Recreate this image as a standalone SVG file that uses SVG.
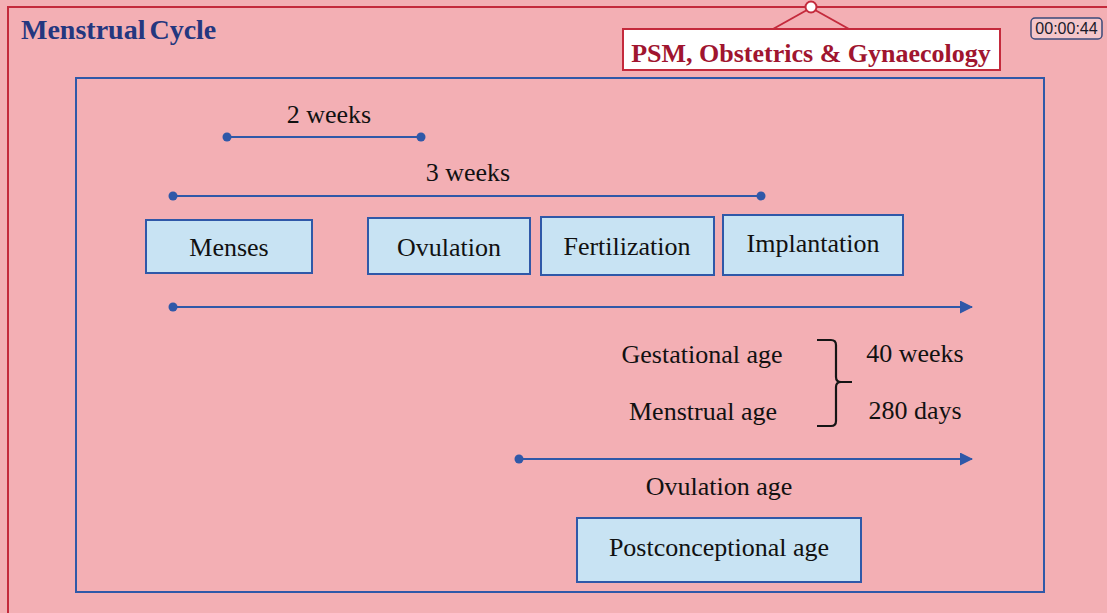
<svg xmlns="http://www.w3.org/2000/svg" width="1107" height="613" viewBox="0 0 1107 613">
<defs>
<style>
.t{font-family:"Liberation Serif","Times New Roman",serif;font-size:26px;fill:#111;text-anchor:middle}
.box{fill:#c8e3f3;stroke:#2f58a8;stroke-width:2}
.ln{stroke:#2f58a8;stroke-width:2.2;fill:none}
.dot{fill:#2f58a8}
</style>
<marker id="ah" markerWidth="13" markerHeight="13" refX="12" refY="6.5" orient="auto" markerUnits="userSpaceOnUse">
<path d="M0,0 L13,6.5 L0,13 Z" fill="#2f58a8"/>
</marker>
</defs>
<rect x="0" y="0" width="1107" height="613" fill="#f3afb4"/>
<path d="M8,613 L8,7 L1107,7" fill="none" stroke="#c42a3c" stroke-width="2"/>
<text x="21" y="39" font-family="Liberation Serif,serif" font-size="28" font-weight="bold" fill="#24377f" word-spacing="-3">Menstrual Cycle</text>
<g id="header">
<line x1="807" y1="10" x2="773" y2="29" stroke="#c42a3c" stroke-width="2"/>
<line x1="815" y1="10" x2="849" y2="29" stroke="#c42a3c" stroke-width="2"/>
<circle cx="811" cy="7" r="5.5" fill="#fff" stroke="#c42a3c" stroke-width="2"/>
<rect x="623" y="29" width="377" height="41" fill="#fff" stroke="#c42a3c" stroke-width="2"/>
<text x="811" y="62" font-family="Liberation Serif,serif" font-size="26" font-weight="bold" fill="#a0152f" text-anchor="middle">PSM, Obstetrics &amp; Gynaecology</text>
</g>
<g id="timer">
<rect x="1031" y="18" width="71" height="21" rx="4" fill="#f5c6ca" stroke="#3a4a7a" stroke-width="1.5"/>
<text x="1066.5" y="34" font-family="Liberation Sans,Arial,sans-serif" font-size="16" fill="#1a1a2a" text-anchor="middle">00:00:44</text>
</g>
<rect id="frame" x="76" y="78" width="968" height="514" fill="none" stroke="#2f58a8" stroke-width="2"/>
<g id="connectors">
<line class="ln" x1="227" y1="137" x2="421" y2="137"/>
<circle class="dot" cx="227" cy="137" r="4.5"/>
<circle class="dot" cx="421" cy="137" r="4.5"/>
<line class="ln" x1="173" y1="196" x2="761" y2="196"/>
<circle class="dot" cx="173" cy="196" r="4.5"/>
<circle class="dot" cx="761" cy="196" r="4.5"/>
<line class="ln" x1="173" y1="307" x2="972" y2="307" marker-end="url(#ah)"/>
<circle class="dot" cx="173" cy="307" r="4.5"/>
<line class="ln" x1="519" y1="459" x2="972" y2="459" marker-end="url(#ah)"/>
<circle class="dot" cx="519" cy="459" r="4.5"/>
<path d="M817,340 L831,340 Q836,340 836,345 L836,377 Q836,382 841,382 L852,382 M841,382 Q836,382 836,387 L836,421 Q836,426 831,426 L817,426" fill="none" stroke="#151515" stroke-width="2.2"/>
</g>
<g id="labels">
<text class="t" x="329" y="123">2 weeks</text>
<text class="t" x="468" y="181">3 weeks</text>
<text class="t" x="702" y="363">Gestational age</text>
<text class="t" x="703" y="420">Menstrual age</text>
<text class="t" x="915" y="362">40 weeks</text>
<text class="t" x="915" y="419">280 days</text>
<text class="t" x="719" y="495">Ovulation age</text>
</g>
<g id="menses"><rect class="box" x="146" y="220" width="166" height="53"/><text class="t" x="229" y="256">Menses</text></g>
<g id="ovulation"><rect class="box" x="368" y="218" width="162" height="56"/><text class="t" x="449" y="256">Ovulation</text></g>
<g id="fertilization"><rect class="box" x="541" y="217" width="173" height="58"/><text class="t" x="627" y="255">Fertilization</text></g>
<g id="implantation"><rect class="box" x="723" y="215" width="180" height="60"/><text class="t" x="813" y="252">Implantation</text></g>
<g id="postconceptional"><rect class="box" x="577" y="518" width="284" height="64"/><text class="t" x="719" y="556">Postconceptional age</text></g>
</svg>
